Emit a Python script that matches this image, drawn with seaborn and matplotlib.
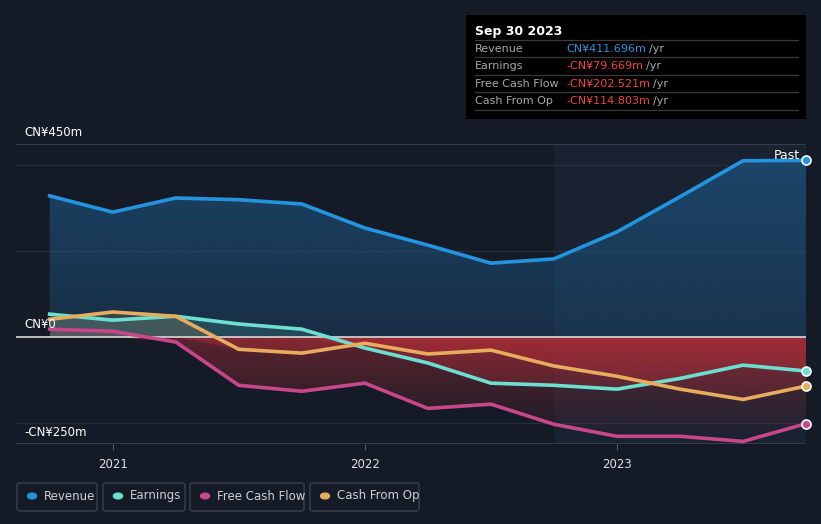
import matplotlib
matplotlib.use("Agg")
import matplotlib.pyplot as plt
from matplotlib.patches import FancyBboxPatch, Rectangle
from matplotlib.colors import to_rgb
import seaborn as sns
import pandas as pd
import numpy as np

# ---- data (CN¥ m), quarterly, trailing-12-month ----
dates = [2020.75, 2021.0, 2021.25, 2021.5, 2021.75, 2022.0, 2022.25, 2022.5,
         2022.75, 2023.0, 2023.25, 2023.5, 2023.75]
revenue = [329, 291, 324, 320, 310, 254, 214, 172, 182, 245, 327, 411, 411.696]
earnings = [53, 39, 48, 30, 18, -26, -61, -108, -113, -122, -97, -66, -79.669]
free_cash_flow = [18, 13, -12, -113, -127, -108, -167, -157, -204, -232, -232, -244, -202.521]
cash_from_op = [41, 58, 48, -29, -38, -15, -40, -31, -68, -92, -122, -146, -114.803]

series_names = ["Revenue", "Earnings", "Free Cash Flow", "Cash From Op"]
series_values = [revenue, earnings, free_cash_flow, cash_from_op]
colors = ["#2394df", "#6ce0d0", "#c8468a", "#e8ad5c"]
tooltip_values = ["CN¥411.696m", "-CN¥79.669m", "-CN¥202.521m", "-CN¥114.803m"]
tooltip_title = "Sep 30 2023"
year_ticks = [2021, 2022, 2023]
y_tick_labels = ["CN¥450m", "CN¥0", "-CN¥250m"]
past_start = 2022.75

bg = "#151b26"
W, H = 821, 524
fig = plt.figure(figsize=(W / 100, H / 100), dpi=100, facecolor=bg)

def fx(px):
    return px / W

def fy(py):
    return 1 - py / H

ax_l, ax_r, ax_t, ax_b = 16, 806, 144, 444
ax = fig.add_axes([fx(ax_l), fy(ax_b), fx(ax_r - ax_l), (ax_b - ax_t) / H])
ax.set_facecolor(bg)
pxyr = 252.15
xmin = 2021 - (112.7 - ax_l) / pxyr
xmax = 2021 + (ax_r - 112.7) / pxyr
ax.set_xlim(xmin, xmax)
ax.set_ylim(-250, 450)

# past region
ax.axvspan(past_start, xmax, color="#1c2a3a", alpha=0.5, zorder=0, lw=0)

# grid lines
for g in [400, 200, -200]:
    ax.axhline(g, color="#262e3b", lw=1, zorder=1)
ax.axhline(450, color="#3c4350", lw=1.2, zorder=1)
ax.axhline(-250, color="#3c4350", lw=1.2, zorder=1)

x = np.array(dates)

def gradient_fill(poly, color, a_top, a_bot, y0, y1, z):
    rgb = to_rgb(color)
    n = 256
    img = np.zeros((n, 2, 4))
    img[:, :, 0], img[:, :, 1], img[:, :, 2] = rgb
    img[:, :, 3] = np.linspace(a_top, a_bot, n)[:, None]
    im = ax.imshow(img, extent=[xmin, xmax, y0, y1], origin="upper", aspect="auto", zorder=z,
                   interpolation="bilinear")
    im.set_clip_path(poly.get_paths()[0], transform=ax.transData)
    poly.remove()

# revenue area (gradient, lighter on top)
p = ax.fill_between(x, revenue, 0, lw=0)
gradient_fill(p, "#1f5e90", 0.62, 0.3, 0, 450, 2)

# others: positive parts tinted, negative parts red gradient
for vals, c in zip(series_values[1:], colors[1:]):
    v = np.array(vals, dtype=float)
    ax.fill_between(x, v, 0, where=v >= 0, interpolate=True, color=c, alpha=0.15, lw=0, zorder=2)
    p = ax.fill_between(x, np.minimum(v, 0), 0, lw=0)
    gradient_fill(p, "#c0303a", 0.42, 0.0, -250, 0, 2)

ax.axhline(0, color="#d8d8d8", lw=1.2, zorder=3)

df = pd.concat([pd.DataFrame({"date": dates, "value": v, "series": n})
                for n, v in zip(series_names, series_values)])
sns.lineplot(data=df, x="date", y="value", hue="series", palette=dict(zip(series_names, colors)),
             linewidth=2.6, legend=False, ax=ax, zorder=4)

for vals, c in zip(series_values, colors):
    ax.scatter([dates[-1]], [vals[-1]], s=42, color=c, edgecolor="white", linewidth=1.2, zorder=6, clip_on=False)

ax.text(dates[-1] - 0.025, revenue[-1] + 11, "Past", color="white", fontsize=9, ha="right", va="center", zorder=7)

for s in ax.spines.values():
    s.set_visible(False)
ax.set_xticks(year_ticks)
ax.set_xticklabels([str(y) for y in year_ticks], color="#e0e0e0", fontsize=8.5)
ax.tick_params(axis="x", length=4, color="#555c68", pad=6)
ax.set_yticks([])
ax.set_xlabel("")
ax.set_ylabel("")

# y labels
fig.text(fx(24), fy(132), y_tick_labels[0], color="white", fontsize=8.5, va="center", ha="left")
fig.text(fx(24), fy(325), y_tick_labels[1], color="white", fontsize=8.5, va="center", ha="left")
fig.text(fx(24), fy(432), y_tick_labels[2], color="white", fontsize=8.5, va="center", ha="left")

# tooltip
tb = Rectangle((fx(466), fy(119)), fx(806 - 466), (119 - 15) / H, transform=fig.transFigure,
               facecolor="#000000", edgecolor="none", zorder=10)
fig.patches.append(tb)
fig.text(fx(475), fy(32), tooltip_title, color="white", fontsize=9, fontweight="semibold", va="center", zorder=11)
row_y = [49, 66, 84, 101]
fig.canvas.draw()
for i, (n, v, c) in enumerate(zip(series_names, tooltip_values, colors)):
    yy = row_y[i]
    sep = fy(yy - 9)
    fig.lines.append(plt.Line2D([fx(475), fx(798)], [sep, sep], transform=fig.transFigure,
                                color="#3a3a3a", lw=0.9, zorder=11))
    fig.text(fx(475), fy(yy), n, color="#a8a8a8", fontsize=8, va="center", zorder=11)
    vc = "#2394df" if i == 0 else "#f0453a"
    t = fig.text(fx(566), fy(yy), v, color=vc, fontsize=8, va="center", zorder=11)
    bb = t.get_window_extent(renderer=fig.canvas.get_renderer())
    fig.text(bb.x1 / W + fx(3), fy(yy), "/yr", color="#a8a8a8", fontsize=8, va="center", zorder=11)
sep = fy(101 + 9)
fig.lines.append(plt.Line2D([fx(475), fx(798)], [sep, sep], transform=fig.transFigure,
                            color="#3a3a3a", lw=0.9, zorder=11))

# legend buttons
btns = [(17, 97), (103, 185), (190, 304), (310, 419)]
for (l, r), n, c in zip(btns, series_names, colors):
    p = FancyBboxPatch((fx(l), fy(511)), fx(r - l), 28 / H, boxstyle="round,pad=0,rounding_size=0.004",
                       transform=fig.transFigure, facecolor="none", edgecolor="#3a414d", lw=1)
    fig.patches.append(p)
    fig.patches.append(plt.Circle((fx(l + 15), fy(496)), 0.0055, transform=fig.transFigure,
                                  color=c))
    fig.text(fx(l + 27), fy(496), n, color="#d0d0d0", fontsize=8.5, va="center")

fig.savefig("out.png", dpi=100, facecolor=bg)
